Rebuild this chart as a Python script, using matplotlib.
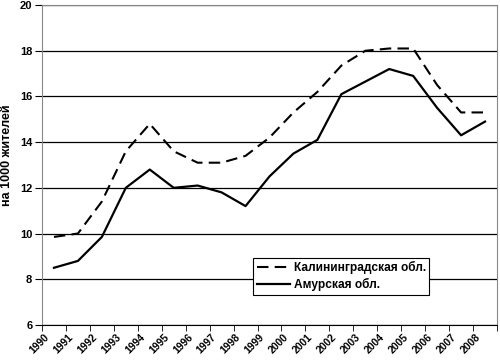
import numpy as np
import matplotlib
matplotlib.use("Agg")
import matplotlib.pyplot as plt

plt.rcParams['font.family'] = ['Liberation Sans', 'DejaVu Sans']

# годы и значения (на 1000 жителей)
years = [str(y) for y in range(1990, 2009)]
kaliningrad = [9.85, 10.0, 11.4, 13.6, 14.8, 13.6, 13.1, 13.1, 13.4, 14.2,
               15.3, 16.2, 17.35, 18.0, 18.1, 18.1, 16.5, 15.3, 15.3]
amur = [8.5, 8.8, 9.85, 12.0, 12.8, 12.0, 12.1, 11.8, 11.2, 12.5,
        13.5, 14.1, 16.1, 16.65, 17.2, 16.9, 15.5, 14.3, 14.9]
yticks = [6, 8, 10, 12, 14, 16, 18, 20]

fig = plt.figure(figsize=(5, 3.63), dpi=100)
ax = fig.add_axes([0.084, 0.105, 0.91, 0.881])

x = np.arange(len(years))
ax.plot(x, kaliningrad, color='black', lw=1.5, dashes=(5.5, 3),
        label='Калининградская обл.')
ax.plot(x, amur, color='black', lw=1.6, label='Амурская обл.')

ax.set_xlim(-0.5, len(years) - 0.5)
ax.set_ylim(6, 20)
ax.set_yticks(yticks)
ax.set_yticklabels([str(v) for v in yticks], fontsize=8, fontweight='bold')
ax.yaxis.grid(True, color='black', lw=0.9)
ax.set_axisbelow(True)

# подписи лет чуть левее центра категории, как в Excel
ax.set_xticks(x - 0.42)
ax.set_xticklabels(years, rotation=45, ha='right', va='top',
                   fontsize=7.5, fontweight='bold', rotation_mode='anchor')
ax.set_xticks(np.arange(len(years) + 1) - 0.5, minor=True)
ax.tick_params(axis='x', which='major', length=0, pad=5)
ax.tick_params(axis='x', which='minor', length=4, color='black', direction='out')
ax.tick_params(axis='y', length=5, color='black', direction='out', pad=2)

for s in ['left', 'top', 'right']:
    ax.spines[s].set_color('#888888')
ax.spines['bottom'].set_color('black')

ax.set_ylabel('на 1000 жителей', fontsize=9, fontweight='bold')
ax.yaxis.set_label_coords(-0.064, 0.53)

leg = ax.legend(loc='upper left', bbox_to_anchor=(0.464, 0.21),
                prop={'weight': 'bold', 'size': 8.6}, fancybox=False,
                framealpha=1, edgecolor='black', handlelength=2.8,
                handletextpad=0.3, borderpad=0.3, labelspacing=0.3,
                borderaxespad=0)
leg.get_frame().set_linewidth(0.8)

fig.savefig('out.png', dpi=100)
